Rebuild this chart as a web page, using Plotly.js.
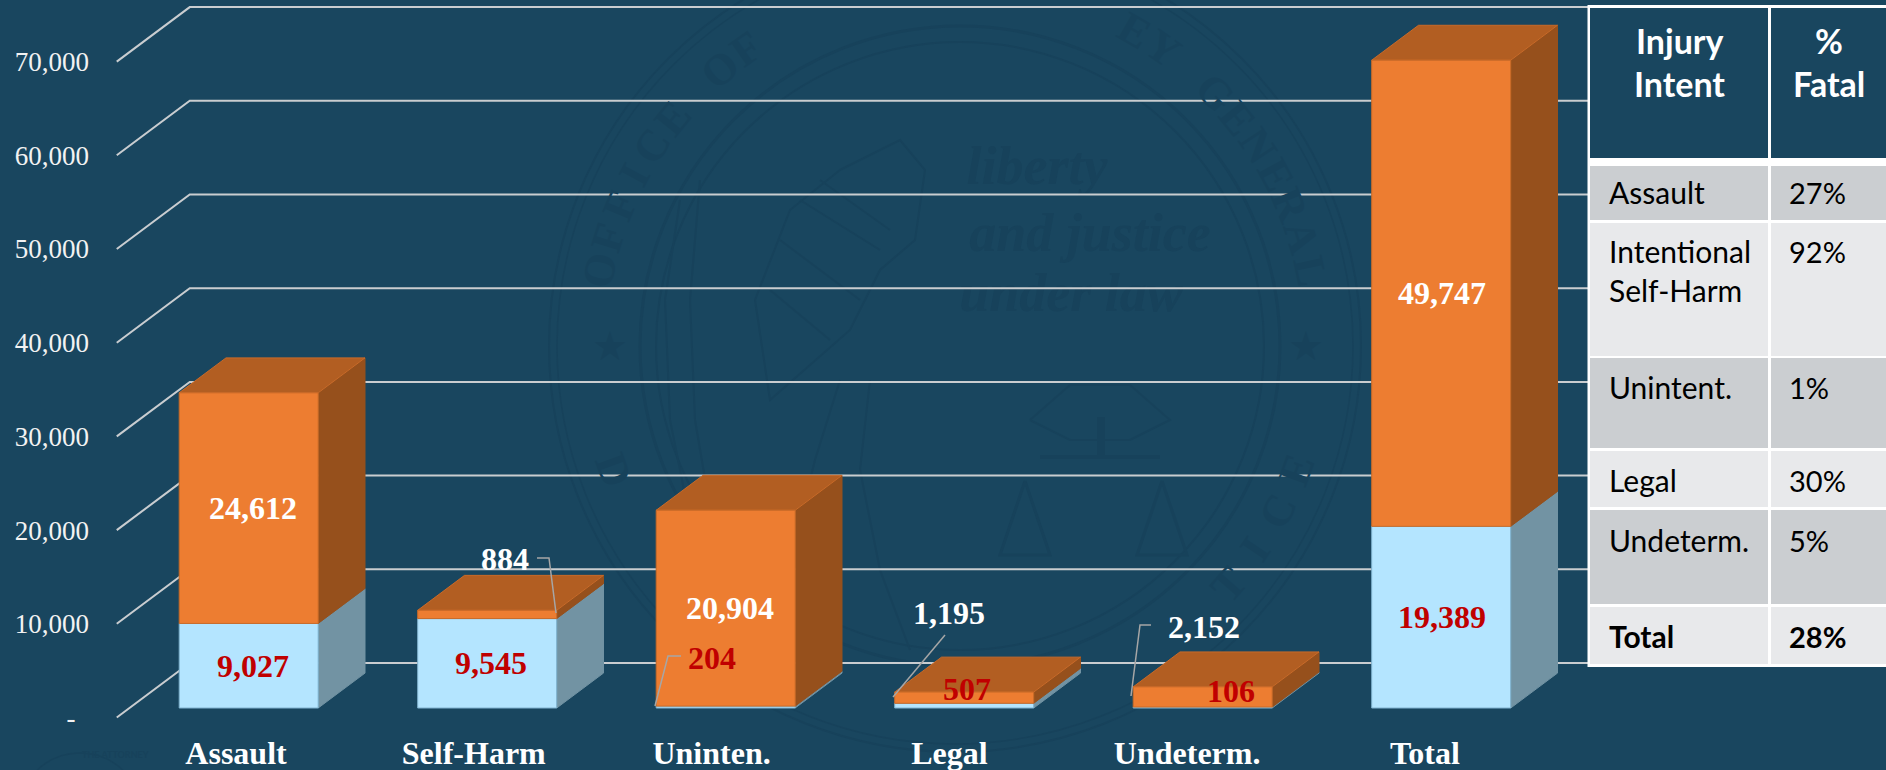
<!DOCTYPE html>
<html>
<head>
<meta charset="utf-8">
<script src="https://cdn.plot.ly/plotly-3.0.1.min.js"></script>
<style>html,body{margin:0;padding:0;background:#19465F;overflow:hidden}#chart{width:1886px;height:770px}</style>
</head>
<body>
<div id="chart"></div>
<script>
// ---------- data ----------
var categories = ['Assault', 'Self-Harm', 'Uninten.', 'Legal', 'Undeterm.', 'Total'];
var fatalValues = [9027, 9545, 204, 507, 106, 19389];
var nonfatalValues = [24612, 884, 20904, 1195, 2152, 49747];
var gridValues = [0, 10000, 20000, 30000, 40000, 50000, 60000, 70000];
var tickLabels = ['-\u00a0\u00a0', '10,000', '20,000', '30,000', '40,000', '50,000', '60,000', '70,000'];
var tableHeaderLeft = ['Injury', 'Intent'];
var tableHeaderRight = ['%', 'Fatal'];
var tableIntents = [['Assault'], ['Intentional', 'Self-Harm'], ['Unintent.'], ['Legal'], ['Undeterm.'], ['Total']];
var tablePercents = ['27%', '92%', '1%', '30%', '5%', '28%'];

// ---------- page geometry ----------
var W = 1886, H = 770, ML = 92, MB = 39, PH = H - MB;
var X0 = 236, XS = 238.5, Y0 = 717.5, YS = 0.00937;
function xOf(px){ return (px - X0) / XS; }
function yOf(py){ return (Y0 - py) / YS; }
function pX(px){ return (px - ML) / (W - ML); }
function pY(py){ return (PH - py) / PH; }
var DX = 73 / XS, DY = 54.5 / YS;          // one unit of depth in axis units
var D0 = 0.174, D1 = 0.815, BW = 139 / XS;
var labelNudge = [4, 4, 4, 0, 0, 1];       // px, centre of in-bar value labels
var tickDrift = 0.997;                     // category labels sit a touch tighter than the bars

var colors = {
  bg:'#19465F', mark:'#17425B', grid:'#C9CDD0', leader:'#A6A6A6',
  lightFront:'#B4E5FF', lightSide:'#7293A3', lightLine:'#7FB2CE',
  orangeFront:'#ED7D31', orangeSide:'#96501C', orangeTop:'#B25E22', orangeLine:'#C96A28',
  red:'#C00000', rowDark:'#CBCED1', rowLight:'#E8E9EB'
};
var serif = '"Liberation Serif","Times New Roman",serif';
var sans = 'Lato,"Noto Sans",sans-serif';

function pt(cat, val, depth){ return [cat + depth * DX, val + depth * DY]; }
function addPoly(t, pts){
  pts.concat([pts[0]]).forEach(function(p){ t.x.push(p[0]); t.y.push(p[1]); });
  t.x.push(null); t.y.push(null);
}
function faceTrace(fill, line){
  return {type:'scatter', mode:'lines', x:[], y:[], fill:'toself', fillcolor:fill,
          line:{color:line, width:1}, hoverinfo:'skip', showlegend:false};
}
var lightSide = faceTrace(colors.lightSide, colors.lightSide),
    lightFront = faceTrace(colors.lightFront, colors.lightLine),
    orangeSide = faceTrace(colors.orangeSide, colors.orangeSide),
    orangeTop = faceTrace(colors.orangeTop, colors.orangeLine),
    orangeFront = faceTrace(colors.orangeFront, colors.orangeLine);

categories.forEach(function(c, i){
  var L = i - BW / 2, R = i + BW / 2, a = fatalValues[i], b = a + nonfatalValues[i];
  addPoly(lightSide, [pt(R,0,D0), pt(R,a,D0), pt(R,a,D1), pt(R,0,D1)]);
  addPoly(lightFront, [pt(L,0,D0), pt(R,0,D0), pt(R,a,D0), pt(L,a,D0)]);
  addPoly(orangeSide, [pt(R,a,D0), pt(R,b,D0), pt(R,b,D1), pt(R,a,D1)]);
  addPoly(orangeTop, [pt(L,b,D0), pt(R,b,D0), pt(R,b,D1), pt(L,b,D1)]);
  addPoly(orangeFront, [pt(L,a,D0), pt(R,a,D0), pt(R,b,D0), pt(L,b,D0)]);
});

// grid: floor-side wall then back wall
var grid = {type:'scatter', mode:'lines', x:[], y:[], line:{color:colors.grid, width:2},
            hoverinfo:'skip', showlegend:false};
gridValues.forEach(function(v){
  var a = pt(-0.5, v, 0), b = pt(-0.5, v, 1);
  grid.x.push(a[0], b[0], xOf(1600), null);
  grid.y.push(a[1], b[1], b[1], null);
});

// seal motto, first trace so everything else is drawn over it
var sealMotto = ['liberty', 'and justice', 'under law'];
var motto = {type:'scatter', mode:'text', x:[xOf(1037), xOf(1090), xOf(1071)],
             y:[yOf(170), yOf(237), yOf(297)], text:sealMotto, textposition:'middle center',
             textfont:{family:serif, size:54, color:colors.mark, style:'italic', weight:'bold'},
             hoverinfo:'skip', showlegend:false};

// ---------- annotations ----------
var ann = [];
function label(px, py, txt, color, size, family, weight, anchor){
  ann.push({xref:'paper', yref:'paper', x:pX(px), y:pY(py), text:txt, showarrow:false,
            xanchor:anchor || 'center', yanchor:'middle', align:anchor || 'center',
            font:{family:family || serif, size:size || 32, color:color, weight:weight == null ? 700 : weight}});
}
function fmt(v){ return v.toLocaleString('en-US'); }
// callouts: label centre for values too small to hold their label, by category index
var fatalCallouts = {2:[712,658], 3:[967,689], 4:[1231,691]};
var nonfatalCallouts = {1:[505,559], 3:[949,613], 4:[1204,627]};
categories.forEach(function(c, i){
  var cx = i + D0 * DX, a = fatalValues[i], b = a + nonfatalValues[i];
  var dyv = D0 * DY;
  function place(v, mid, color, co){
    if (co) label(co[0], co[1], fmt(v), color);
    else ann.push({xref:'x', yref:'y', x:cx, y:mid + dyv, xshift:labelNudge[i], text:fmt(v), showarrow:false,
                   xanchor:'center', yanchor:'middle',
                   font:{family:serif, size:32, color:color, weight:700}});
  }
  place(a, a / 2, colors.red, fatalCallouts[i]);
  place(nonfatalValues[i], (a + b) / 2, '#FFFFFF', nonfatalCallouts[i]);
});

// ---------- shapes ----------
var shapes = [];
function leader(pts){
  var d = pts.map(function(p, i){ return (i ? 'L' : 'M') + xOf(p[0]) + ',' + yOf(p[1]); }).join(' ');
  shapes.push({type:'path', xref:'x', yref:'y', path:d, layer:'above', line:{color:colors.leader, width:1.5}});
}
leader([[537,558],[549,558],[556,613]]);
leader([[681,656],[668,656],[655,706]]);
leader([[945,635],[893,697]]);
leader([[1151,625],[1140,625],[1131,696]]);

// table as cells on a white sheet
function rect(x0, y0, x1, y1, fill){
  shapes.push({type:'rect', xref:'paper', yref:'paper', x0:pX(x0), x1:pX(x1), y0:pY(y1), y1:pY(y0),
               layer:'above', fillcolor:fill, line:{width:0}});
}
var colL = [1590, 1768], colR = [1771, 1886];
var rowTops = [166, 223, 358, 451, 510, 607], rowBots = [220, 356, 448, 507, 604, 664];
var rowLines = [[192], [251, 290], [387], [480], [540], [636]];
rect(1587.5, 5, 1886, 667, '#FFFFFF');
rect(colL[0], 8, colL[1], 158, colors.bg);
rect(colR[0], 8, colR[1], 158, colors.bg);
rowTops.forEach(function(t, i){
  var f = i % 2 ? colors.rowLight : colors.rowDark;
  rect(colL[0], t, colL[1], rowBots[i], f);
  rect(colR[0], t, colR[1], rowBots[i], f);
});
[40, 83].forEach(function(y, i){
  label(1679, y, tableHeaderLeft[i], '#FFFFFF', 34, sans, 700);
  label(1829, y, tableHeaderRight[i], '#FFFFFF', 34, sans, 700);
});
tableIntents.forEach(function(lines, i){
  var last = i === tableIntents.length - 1;
  lines.forEach(function(t, j){
    label(1607, rowLines[i][j], t, '#000000', 30, sans, last ? 700 : 400, 'left');
  });
  label(1787, rowLines[i][0], tablePercents[i], '#000000', 29, sans, last ? 700 : 400, 'left');
});

// ---------- faint seal watermark ----------
var SC = [955, 346];
function ring(cx, cy, r, w){
  shapes.push({type:'circle', xref:'paper', yref:'paper', layer:'below',
               x0:pX(cx - r), x1:pX(cx + r), y0:pY(cy + r), y1:pY(cy - r),
               line:{color:colors.mark, width:w}});
}
function stroke(pts, w){
  var d = pts.map(function(p, i){ return (i ? 'L' : 'M') + pX(p[0]) + ',' + pY(p[1]); }).join(' ');
  shapes.push({type:'path', xref:'paper', yref:'paper', path:d, layer:'below', line:{color:colors.mark, width:w || 2}});
}
ring(SC[0], SC[1], 406, 2); ring(SC[0], SC[1], 398, 1.5);
ring(SC[0] + 5, SC[1], 320, 3); ring(SC[0] + 5, SC[1], 304, 2);
// scales of justice, lamp, eagle and branch outlines
stroke([[1025,481],[1000,555],[1050,555],[1025,481]], 3);
stroke([[1162,481],[1137,555],[1187,555],[1162,481]], 3);
stroke([[1040,457],[1160,457]], 4);
stroke([[1101,417],[1101,457]], 8);
stroke([[1030,420],[1070,385],[1130,385],[1170,420],[1130,440],[1070,440],[1030,420]], 2);
stroke([[840,170],[900,140],[925,170],[915,240],[880,270],[850,330],[770,400],[755,300],[790,210],[840,170]], 2);
stroke([[800,200],[880,250]], 2); stroke([[820,180],[890,230]], 2);
stroke([[780,240],[860,300]], 2); stroke([[770,290],[830,340]], 2);
stroke([[840,380],[815,460],[790,560],[770,650]], 2);
stroke([[870,380],[860,470],[880,570],[910,650]], 2);
stroke([[680,200],[665,300],[670,420],[690,520]], 2);
stroke([[700,180],[690,300],[695,420],[712,520]], 2);

var sealTop = 'OFFICE OF THE ATTORNEY GENERAL';
var sealBottom = 'DEPARTMENT OF JUSTICE';
function blocked(px, py){
  if (py < 24) return true;                                   // would be cut by the page top
  if (py > 590 && px > 1110 && px < 1290) return true;        // behind the 2,152 callout
  if (py > 590 && px > 900 && px < 1010) return true;         // behind the 1,195 callout
  return categories.some(function(c, i){
    var cx = X0 + XS * i, b = fatalValues[i] + nonfatalValues[i];
    var top = Y0 - 54.5 * D1 - b * YS;
    return px > cx - 90 && px < cx + 135 && py > top - 15;
  });
}
function arcText(str, a0, a1, r, flip){
  str.split('').forEach(function(ch, i){
    if (ch === ' ') return;
    var a = (a0 + (a1 - a0) * i / (str.length - 1)) * Math.PI / 180;
    var px = SC[0] + r * Math.cos(a), py = SC[1] + r * Math.sin(a);
    if (blocked(px, py)) return;
    var deg = a * 180 / Math.PI + (flip ? -90 : 90);
    ann.push({xref:'paper', yref:'paper', x:pX(px), y:pY(py), text:ch, showarrow:false, textangle:deg,
              xanchor:'center', yanchor:'middle', font:{family:serif, size:44, color:colors.mark, weight:700}});
  });
}
arcText(sealTop, -168, -12, 363, false);
arcText(sealBottom, 160, 20, 363, true);
[[590,346],[1326,346]].forEach(function(s){
  ann.push({xref:'paper', yref:'paper', x:pX(s[0]), y:pY(s[1]), text:'\u2605', showarrow:false,
            font:{family:'"DejaVu Sans"', size:40, color:colors.mark}});
});
// small seal peeking in at the lower left
var smallSeal = [80, 815];
ring(smallSeal[0], smallSeal[1], 62, 1.5); ring(smallSeal[0], smallSeal[1], 44, 1);
ann.push({xref:'paper', yref:'paper', x:pX(80), y:pY(762), text:'THE ATTORNEY', showarrow:false,
          font:{family:sans, size:9, color:colors.mark, weight:700}});

// ---------- layout ----------
var layout = {
  width:W, height:H, margin:{l:ML, r:0, t:0, b:MB, pad:0},
  paper_bgcolor:colors.bg, plot_bgcolor:'rgba(0,0,0,0)', showlegend:false, hovermode:false,
  xaxis:{type:'linear', range:[xOf(ML), xOf(W)], tickmode:'array',
         tickvals:categories.map(function(c, i){ return i * tickDrift; }), ticktext:categories,
         showgrid:false, zeroline:false, showline:false, ticks:'', fixedrange:true,
         tickfont:{family:serif, size:32, color:'#FFFFFF', weight:700}},
  yaxis:{type:'linear', range:[yOf(PH), yOf(0)], tickmode:'array', tickvals:gridValues, ticktext:tickLabels,
         showgrid:false, zeroline:false, showline:false, ticks:'', fixedrange:true, ticklabelstandoff:2,
         tickfont:{family:serif, size:27, color:'#F2F2F2'}},
  shapes:shapes, annotations:ann
};
Plotly.newPlot('chart', [motto, grid, lightSide, lightFront, orangeSide, orangeTop, orangeFront], layout,
               {displayModeBar:false, responsive:false, staticPlot:true});
</script>
</body>
</html>
